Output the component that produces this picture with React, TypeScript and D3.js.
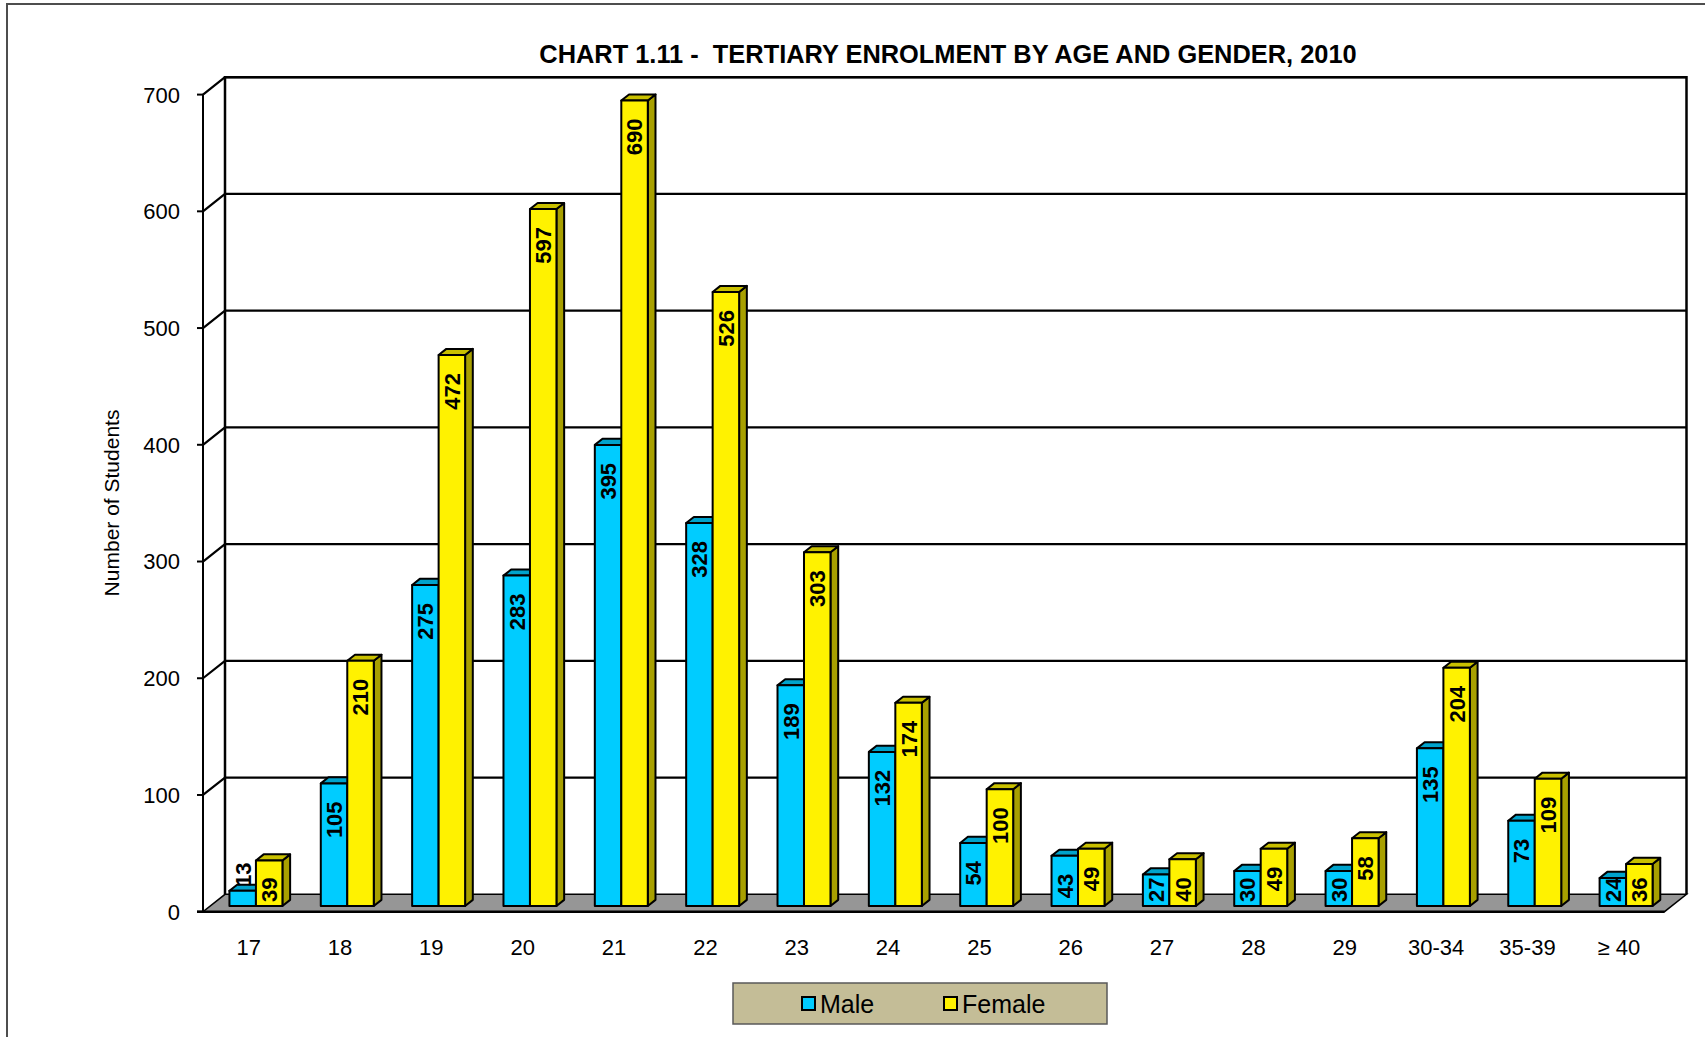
import React, { useRef, useEffect } from "react";
import { select, scaleBand, scaleLinear } from "d3";

// chart values
const ages = ["17", "18", "19", "20", "21", "22", "23", "24", "25", "26", "27", "28", "29", "30-34", "35-39", "≥ 40"];
const male = [13, 105, 275, 283, 395, 328, 189, 132, 54, 43, 27, 30, 30, 135, 73, 24];
const female = [39, 210, 472, 597, 690, 526, 303, 174, 100, 49, 40, 49, 58, 204, 109, 36];
const yTicks = [0, 100, 200, 300, 400, 500, 600, 700];
const seriesNames = ["Male", "Female"];

const W = 1705;
const H = 1037;
const FONT = "'Liberation Sans', Arial, sans-serif";

// 3d depth of the box (back wall offset from front plane)
const DX = 22;
const DY = 17.4;
// bars sit between these fractions of the depth
const F0 = 0.33;
const F1 = 0.68;

const colors = {
  Male: { front: "#00CCFF", top: "#00A3CC", side: "#0089AB" },
  Female: { front: "#FFF200", top: "#C9C000", side: "#A8A000" },
};

const App = () => {
  const svgRef = useRef(null);

  useEffect(() => {
    const svg = select(svgRef.current);
    svg.selectAll("*").remove();

    const x = scaleBand().domain(ages).range([203, 1664.5]);
    const y = scaleLinear().domain([0, 700]).range([911.7, 94.6]);
    const bw = x.bandwidth();
    const pairW = bw * 0.58;
    const sub = scaleBand()
      .domain(seriesNames)
      .range([(bw - pairW) / 2, (bw + pairW) / 2]);

    const left = x.range()[0];
    const right = x.range()[1];

    // outer frame
    svg.append("path")
      .attr("d", `M7,${H} L7,4 L${W},4`)
      .attr("fill", "none")
      .attr("stroke", "#4d4d4d")
      .attr("stroke-width", 2);

    // title (keeps the double space)
    svg.append("text")
      .attr("x", 948)
      .attr("y", 63)
      .attr("text-anchor", "middle")
      .attr("font-family", FONT)
      .attr("font-weight", "bold")
      .attr("font-size", 25.4)
      .style("white-space", "pre")
      .text("CHART 1.11 -  TERTIARY ENROLMENT BY AGE AND GENDER, 2010");

    // back wall + left wall
    const topV = yTicks[yTicks.length - 1];
    svg.append("path")
      .attr("d", `M${left + DX},${y(0) - DY} L${left + DX},${y(topV) - DY} L${right + DX},${y(topV) - DY} L${right + DX},${y(0) - DY}`)
      .attr("fill", "#fff")
      .attr("stroke", "#000")
      .attr("stroke-width", 2.5);

    // grid lines on back wall and side wall
    svg.append("g")
      .selectAll("path")
      .data(yTicks.filter((t) => t > 0))
      .join("path")
      .attr("d", (t) => `M${left},${y(t)} L${left + DX},${y(t) - DY} L${right + DX},${y(t) - DY}`)
      .attr("fill", "none")
      .attr("stroke", "#000")
      .attr("stroke-width", 2.2);

    // floor
    svg.append("path")
      .attr("d", `M${left},${y(0)} L${right},${y(0)} L${right + DX},${y(0) - DY} L${left + DX},${y(0) - DY} Z`)
      .attr("fill", "#969696")
      .attr("stroke", "#000")
      .attr("stroke-width", 1.5);
    svg.append("line")
      .attr("x1", left - 6)
      .attr("x2", right)
      .attr("y1", y(0))
      .attr("y2", y(0))
      .attr("stroke", "#000")
      .attr("stroke-width", 2.5);

    // value axis
    svg.append("line")
      .attr("x1", left)
      .attr("x2", left)
      .attr("y1", y(0))
      .attr("y2", y(topV))
      .attr("stroke", "#000")
      .attr("stroke-width", 2);

    const yAxis = svg.append("g");
    yAxis.selectAll("line")
      .data(yTicks)
      .join("line")
      .attr("x1", left - 6)
      .attr("x2", left)
      .attr("y1", (t) => y(t))
      .attr("y2", (t) => y(t))
      .attr("stroke", "#000")
      .attr("stroke-width", 2);
    yAxis.selectAll("text")
      .data(yTicks)
      .join("text")
      .attr("x", left - 23)
      .attr("y", (t) => y(t))
      .attr("dy", "0.36em")
      .attr("text-anchor", "end")
      .attr("font-family", FONT)
      .attr("font-size", 22)
      .text((t) => t);

    svg.append("text")
      .attr("transform", `translate(119,${503}) rotate(-90)`)
      .attr("text-anchor", "middle")
      .attr("font-family", FONT)
      .attr("font-size", 21)
      .text("Number of Students");

    // category labels
    svg.append("g")
      .selectAll("text")
      .data(ages)
      .join("text")
      .attr("x", (d) => x(d) + bw / 2)
      .attr("y", 947)
      .attr("dy", "0.36em")
      .attr("text-anchor", "middle")
      .attr("font-family", FONT)
      .attr("font-size", 22)
      .text((d) => d);

    // bars
    const bars = [];
    ages.forEach((a, i) => {
      bars.push({ age: a, s: "Male", v: male[i] });
      bars.push({ age: a, s: "Female", v: female[i] });
    });

    const fx0 = F0 * DX, fy0 = F0 * DY;
    const ddx = (F1 - F0) * DX, ddy = (F1 - F0) * DY;
    const sw = sub.bandwidth();

    const g = svg.append("g").attr("stroke", "#000").attr("stroke-width", 2).attr("stroke-linejoin", "round");
    bars.forEach((b) => {
      const x0 = x(b.age) + sub(b.s) + fx0;
      const x1 = x0 + sw;
      const yb = y(0) - fy0;
      const yt = y(b.v) - fy0;
      const c = colors[b.s];
      // side
      g.append("path")
        .attr("d", `M${x1},${yb} L${x1},${yt} L${x1 + ddx},${yt - ddy} L${x1 + ddx},${yb - ddy} Z`)
        .attr("fill", c.side);
      // top
      g.append("path")
        .attr("d", `M${x0},${yt} L${x1},${yt} L${x1 + ddx},${yt - ddy} L${x0 + ddx},${yt - ddy} Z`)
        .attr("fill", c.top);
      // front
      g.append("rect")
        .attr("x", x0)
        .attr("y", yt)
        .attr("width", sw)
        .attr("height", yb - yt)
        .attr("fill", c.front);
    });

    // value labels, rotated, near the top of each bar
    svg.append("g")
      .selectAll("text")
      .data(bars)
      .join("text")
      .attr("transform", (b) => {
        const cx = x(b.age) + sub(b.s) + fx0 + sw / 2;
        const yb = y(0) - fy0;
        const yt = y(b.v) - fy0;
        const len = String(b.v).length * 12.2;
        let end = yt + 18;
        if (end + len > yb - 4) end = yb - 4 - len;
        // too short: put it above the bar
        if (yb - yt < len) end = yt - 4 - len;
        return `translate(${cx},${end}) rotate(-90)`;
      })
      .attr("dy", "0.36em")
      .attr("text-anchor", "end")
      .attr("font-family", FONT)
      .attr("font-weight", "bold")
      .attr("font-size", 22)
      .text((b) => b.v);

    // legend
    const lg = svg.append("g");
    lg.append("rect")
      .attr("x", 733)
      .attr("y", 983)
      .attr("width", 374)
      .attr("height", 41)
      .attr("fill", "#C4BD97")
      .attr("stroke", "#595959")
      .attr("stroke-width", 1.5);
    const legX = [802, 944];
    seriesNames.forEach((s, i) => {
      lg.append("rect")
        .attr("x", legX[i])
        .attr("y", 997)
        .attr("width", 13)
        .attr("height", 13)
        .attr("fill", colors[s].front)
        .attr("stroke", "#000")
        .attr("stroke-width", 2);
      lg.append("text")
        .attr("x", legX[i] + 18)
        .attr("y", 1004)
        .attr("dy", "0.36em")
        .attr("font-family", FONT)
        .attr("font-size", 25)
        .text(s);
    });
  }, []);

  return (
    <div style={{ position: "absolute", left: 0, top: 0, width: W, height: H, background: "#fff" }}>
      <svg ref={svgRef} width={W} height={H} style={{ display: "block" }} />
    </div>
  );
};

export default App;
